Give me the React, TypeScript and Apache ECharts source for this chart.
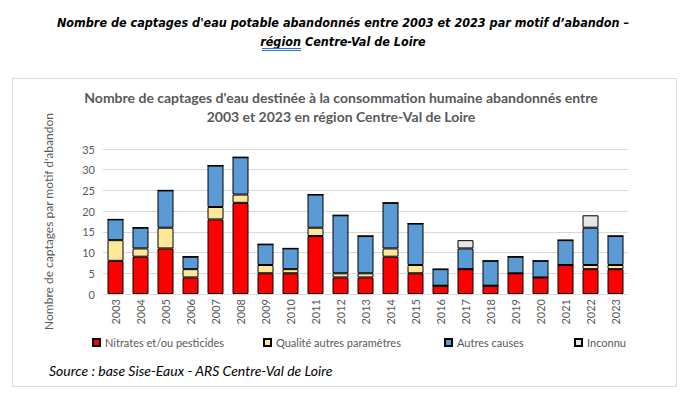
import React, { useEffect, useRef } from "react";
import * as echarts from "echarts";

const years = ["2003","2004","2005","2006","2007","2008","2009","2010","2011","2012","2013","2014","2015","2016","2017","2018","2019","2020","2021","2022","2023"];
const nitrates = [8, 9, 11, 4, 18, 22, 5, 5, 14, 4, 4, 9, 5, 2, 6, 2, 5, 4, 7, 6, 6];
const qualite = [5, 2, 5, 2, 3, 2, 2, 1, 2, 1, 1, 2, 2, 0, 0, 0, 0, 0, 0, 1, 1];
const autres = [5, 5, 9, 3, 10, 9, 5, 5, 8, 14, 9, 11, 10, 4, 5, 6, 4, 4, 6, 9, 7];
const inconnu = [0, 0, 0, 0, 0, 0, 0, 0, 0, 0, 0, 0, 0, 0, 2, 0, 0, 0, 0, 3, 0];
const seriesNames = ["Nitrates et/ou pesticides", "Qualité autres paramètres", "Autres causes", "Inconnu"];
const seriesColors = ["#FF0000", "#FFE699", "#5B9BD5", "#E7E6E6"];
const legendLefts = [92, 263, 444, 574];

const pageTitle1 = "Nombre de captages d'eau potable abandonnés entre 2003 et 2023 par motif d’abandon –";
const pageTitle2a = "région";
const pageTitle2b = " Centre-Val de Loire";
const chartTitle = "Nombre de captages d'eau destinée à la consommation humaine abandonnés entre\n2003 et 2023 en région Centre-Val de Loire";
const yName = "Nombre de captages par motif d'abandon";
const source = "Source : base Sise-Eaux - ARS Centre-Val de Loire";

const FONT = "Lato, 'Open Sans', sans-serif";
const NARROW = "'Liberation Sans Narrow', 'DejaVu Sans Condensed', 'Liberation Sans', sans-serif";

export default function App() {
  const ref = useRef<HTMLDivElement>(null);
  useEffect(() => {
    if (!ref.current) return;
    const chart = echarts.init(ref.current, null, { renderer: "svg" });
    const data = [nitrates, qualite, autres, inconnu];
    chart.setOption({
      animation: false,
      backgroundColor: "#ffffff",
      textStyle: { fontFamily: FONT },
      grid: { left: 103, right: 68, top: 149, bottom: 103 },
      legend: seriesNames.map((n, i) => ({
        data: [n],
        left: legendLefts[i],
        top: 337,
        icon: "rect",
        itemWidth: 7,
        itemHeight: 7,
        itemGap: 4,
        padding: 0,
        textStyle: { fontFamily: FONT, fontSize: 11, color: "#595959" },
      })),
      xAxis: {
        type: "category",
        data: years,
        axisTick: { show: false },
        axisLine: { lineStyle: { color: "#D9D9D9" } },
        axisLabel: { rotate: 90, fontSize: 11, color: "#595959", fontFamily: FONT, margin: 5 },
      },
      yAxis: {
        type: "value",
        min: 0,
        max: 35,
        interval: 5,
        axisLine: { show: false },
        axisTick: { show: false },
        axisLabel: { fontSize: 11, color: "#595959", fontFamily: FONT, margin: 8 },
        splitLine: { lineStyle: { color: "#D9D9D9" } },
        name: yName,
        nameLocation: "middle",
        nameGap: 49,
        nameTextStyle: { fontSize: 12, color: "#595959", fontFamily: FONT },
      },
      series: seriesNames.map((n, i) => ({
        name: n,
        type: "bar",
        stack: "total",
        barWidth: 16,
        data: data[i],
        itemStyle: { color: seriesColors[i], borderColor: "#000000", borderWidth: 1 },
      })),
      graphic: [
        {
          type: "rect",
          shape: { x: 12.5, y: 78.5, width: 664, height: 308 },
          style: { fill: "none", stroke: "#D9D9D9", lineWidth: 1 },
          silent: true,
        },
        {
          type: "text",
          x: 343,
          y: 22,
          style: {
            text: pageTitle1,
            fontFamily: NARROW,
            fontSize: 12.5,
            fontWeight: "bold",
            fontStyle: "italic",
            fill: "#000000",
            align: "center",
            verticalAlign: "middle",
          },
        },
        {
          type: "text",
          x: 301,
          y: 41,
          style: {
            text: pageTitle2a,
            fontFamily: NARROW,
            fontSize: 12.5,
            fontWeight: "bold",
            fontStyle: "italic",
            fill: "#000000",
            align: "right",
            verticalAlign: "middle",
          },
        },
        {
          type: "text",
          x: 301,
          y: 41,
          style: {
            text: pageTitle2b,
            fontFamily: NARROW,
            fontSize: 12.5,
            fontWeight: "bold",
            fontStyle: "italic",
            fill: "#000000",
            align: "left",
            verticalAlign: "middle",
          },
        },
        {
          type: "line",
          shape: { x1: 262, y1: 48.5, x2: 301, y2: 48.5 },
          style: { stroke: "#2F6FD8", lineWidth: 1 },
        },
        {
          type: "line",
          shape: { x1: 262, y1: 50.5, x2: 301, y2: 50.5 },
          style: { stroke: "#2F6FD8", lineWidth: 1 },
        },
        {
          type: "text",
          x: 341,
          y: 107,
          style: {
            text: chartTitle,
            fontFamily: FONT,
            fontSize: 14,
            fontWeight: "bold",
            fill: "#595959",
            align: "center",
            verticalAlign: "middle",
            lineHeight: 19,
          },
        },
        {
          type: "text",
          x: 49,
          y: 370,
          style: {
            text: source,
            fontFamily: FONT,
            fontSize: 14,
            fontStyle: "italic",
            fill: "#000000",
            align: "left",
            verticalAlign: "middle",
          },
        },
      ],
    });
    return () => chart.dispose();
  }, []);
  return <div ref={ref} style={{ position: "fixed", left: 0, top: 0, width: 696, height: 397 }} />;
}
